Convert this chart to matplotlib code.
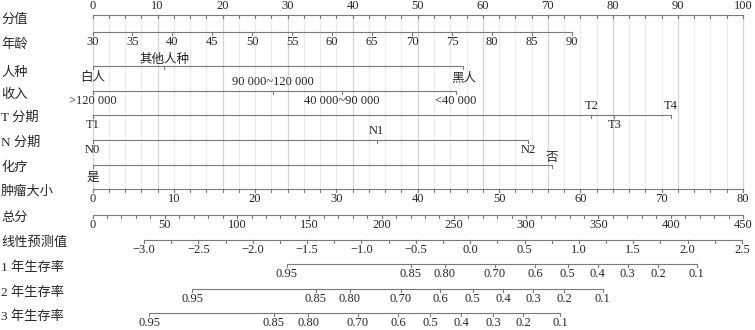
#!/usr/bin/env python3
"""
Nomogram (Cox model): points scale, seven predictors, total points,
linear predictor and 1/2/3-year survival scales.

Run:  python3 plot.py   -> out.png
"""

import matplotlib
matplotlib.use("Agg")
import matplotlib.pyplot as plt

FONT = ["Liberation Serif", "Noto Sans CJK SC"]
TEXT_COLOR = "#262626"
LINE_COLOR = "#7a7a7a"

# ---- data ----------------------------------------------------------------
ROW_NAMES = ["分值", "年龄", "人种", "收入", "T 分期", "N 分期", "化疗",
             "肿瘤大小", "总分", "线性预测值", "1 年生存率", "2 年生存率",
             "3 年生存率"]

POINT_TICKS = list(range(0, 101, 10))

AGE_TICKS = list(range(30, 91, 5))
AGE_MAX_POINTS = 73.7          # points given to age 90

RACE_CATS   = ["白人", "其他人种", "黑人"]
RACE_POINTS = [0.0, 11.0, 57.0]
RACE_SIDE   = ["below", "above", "below"]

INCOME_CATS   = [">120 000", "90 000~120 000", "40 000~90 000", "<40 000"]
INCOME_POINTS = [0.0, 27.7, 38.3, 55.9]
INCOME_SIDE   = ["below", "above", "below", "below"]

T_CATS   = ["T1", "T2", "T3", "T4"]
T_POINTS = [0.0, 76.7, 80.2, 88.9]
T_SIDE   = ["below", "above", "below", "above"]

N_CATS   = ["N0", "N1", "N2"]
N_POINTS = [0.0, 43.7, 67.0]
N_SIDE   = ["below", "above", "below"]

CHEMO_CATS   = ["是", "否"]
CHEMO_POINTS = [0.0, 70.6]
CHEMO_SIDE   = ["below", "above"]

TUMOR_TICKS = list(range(0, 81, 10))
TUMOR_MAX = 80                 # tumour size that gets 100 points

TOTAL_TICKS = list(range(0, 451, 50))
TOTAL_MAX = 450

LP_TICKS = [-3.0, -2.5, -2.0, -1.5, -1.0, -0.5, 0.0, 0.5, 1.0, 1.5, 2.0, 2.5]
LP_POINTS_AT_MIN = 7.92        # points position of lp = -3.0
LP_POINTS_AT_MAX = 99.85       # points position of lp = 2.5

SURV_LABELS = ["0.95", "0.85", "0.80", "0.70", "0.6", "0.5", "0.4", "0.3",
               "0.2", "0.1"]
SURV1_LP = [-1.688, -0.545, -0.232, 0.228, 0.596, 0.897, 1.173, 1.449,
            1.730, 2.084]
SURV2_LP = [-2.557, -1.419, -1.106, -0.637, -0.278, 0.023, 0.302, 0.578,
            0.863, 1.219]
SURV3_LP = [-2.952, -1.805, -1.489, -1.032, -0.664, -0.370, -0.085, 0.210,
            0.486, 0.826]

# ---- layout (pixels of the 755x330 output) -------------------------------
X0_PX = 92.5                   # where 0 points sits
PX_PER_POINT = 6.505
LINE_Y  = [15, 32, 66, 91, 115, 140, 165, 189, 215, 240, 264, 289, 313]
LABEL_Y = [17, 42, 70, 92, 115, 140, 165, 189, 215, 240, 265, 290, 314]
TICK_LEN = 3
ABOVE, BELOW = 9, 10
CJK_SHIFT = 2.5                # Noto CJK glyphs sit higher than the serif


def has_cjk(s):
    return any(ord(c) > 0x2e80 for c in s)


def age_pts(a):
    return (a - AGE_TICKS[0]) / (AGE_TICKS[-1] - AGE_TICKS[0]) * AGE_MAX_POINTS


def tumor_pts(t):
    return t / TUMOR_MAX * 100.0


def total_pts(t):
    return t / TOTAL_MAX * 100.0


def lp_pts(lp):
    lo, hi = LP_TICKS[0], LP_TICKS[-1]
    return LP_POINTS_AT_MIN + (lp - lo) * \
        (LP_POINTS_AT_MAX - LP_POINTS_AT_MIN) / (hi - lo)


def fmt(v):
    s = f"{v:.1f}" if isinstance(v, float) else str(v)
    return s.replace("-", "\u2212")


def draw_scale(ax, y, xs, labels, sides, minor=None):
    ax.plot([min(xs), max(xs)], [y, y], color=LINE_COLOR, lw=0.8,
            solid_capstyle="butt", zorder=3)
    for m in (minor or []):
        ax.plot([m, m], [y, y + TICK_LEN], color=LINE_COLOR, lw=0.8, zorder=3)
    for x, lab, side in zip(xs, labels, sides):
        ax.plot([x, x], [y, y + TICK_LEN], color=LINE_COLOR, lw=0.8, zorder=3)
        ty = y - ABOVE if side == "above" else y + BELOW
        if has_cjk(lab):
            ty += CJK_SHIFT
        ax.text(x, ty, lab, ha="center", va="center", fontsize=9,
                family=FONT, color=TEXT_COLOR, clip_on=False)


def main():
    fig = plt.figure(figsize=(7.55, 3.3), dpi=100)
    ax = fig.add_axes([0, 0, 1, 1])
    ax.set_xlim(-X0_PX / PX_PER_POINT, (755 - X0_PX) / PX_PER_POINT)
    ax.set_ylim(330, 0)
    ax.axis("off")

    # vertical reference grid, from the points scale down to tumour size
    grid = [i * 2.5 for i in range(41)]
    for g in grid:
        major = abs(g % 10) < 1e-9
        ax.plot([g, g], [LINE_Y[0], LINE_Y[7]],
                color="#d4d4d4" if major else "#ececec",
                lw=0.9, zorder=1)

    for name, ly in zip(ROW_NAMES, LABEL_Y):
        ax.text(-X0_PX / PX_PER_POINT + 0.15, ly + CJK_SHIFT, name,
                ha="left", va="center", fontsize=9.5, family=FONT,
                color=TEXT_COLOR)

    draw_scale(ax, LINE_Y[0], POINT_TICKS, [str(p) for p in POINT_TICKS],
               ["above"] * len(POINT_TICKS), minor=grid)
    draw_scale(ax, LINE_Y[1], [age_pts(a) for a in AGE_TICKS],
               [str(a) for a in AGE_TICKS], ["below"] * len(AGE_TICKS))
    draw_scale(ax, LINE_Y[2], RACE_POINTS, RACE_CATS, RACE_SIDE)
    draw_scale(ax, LINE_Y[3], INCOME_POINTS, INCOME_CATS, INCOME_SIDE)
    draw_scale(ax, LINE_Y[4], T_POINTS, T_CATS, T_SIDE)
    draw_scale(ax, LINE_Y[5], N_POINTS, N_CATS, N_SIDE)
    draw_scale(ax, LINE_Y[6], CHEMO_POINTS, CHEMO_CATS, CHEMO_SIDE)
    draw_scale(ax, LINE_Y[7], [tumor_pts(t) for t in TUMOR_TICKS],
               [str(t) for t in TUMOR_TICKS], ["below"] * len(TUMOR_TICKS),
               minor=[tumor_pts(t) for t in range(0, TUMOR_MAX + 1, 2)])
    draw_scale(ax, LINE_Y[8], [total_pts(t) for t in TOTAL_TICKS],
               [str(t) for t in TOTAL_TICKS], ["below"] * len(TOTAL_TICKS),
               minor=[total_pts(t) for t in range(0, TOTAL_MAX + 1, 10)])
    lp_minor = [LP_TICKS[0] + 0.25 * i for i in range(23)]
    draw_scale(ax, LINE_Y[9], [lp_pts(v) for v in LP_TICKS],
               [fmt(v) for v in LP_TICKS], ["below"] * len(LP_TICKS),
               minor=[lp_pts(v) for v in lp_minor])
    for row, lps in zip((10, 11, 12), (SURV1_LP, SURV2_LP, SURV3_LP)):
        draw_scale(ax, LINE_Y[row], [lp_pts(v) for v in lps], SURV_LABELS,
                   ["below"] * len(SURV_LABELS))

    fig.savefig("out.png", dpi=100, facecolor="white")
    plt.close(fig)


if __name__ == "__main__":
    main()
